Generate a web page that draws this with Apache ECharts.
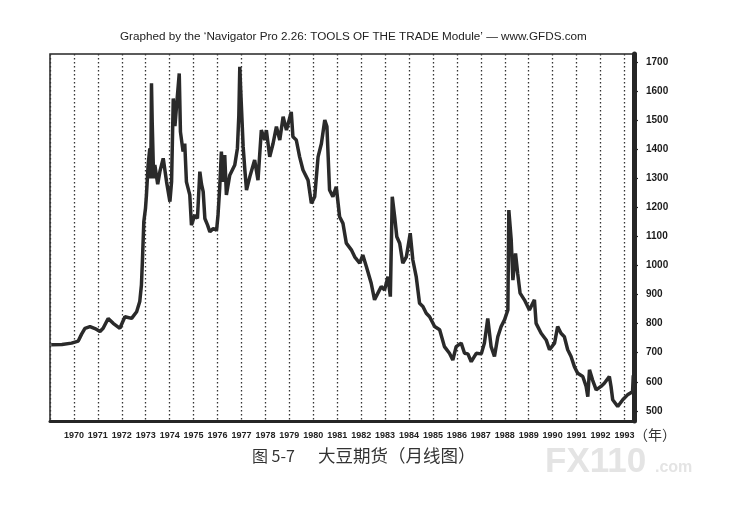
<!DOCTYPE html>
<html>
<head>
<meta charset="utf-8">
<script src="https://cdn.jsdelivr.net/npm/echarts@6/dist/echarts.min.js"></script>
<style>
html,body{margin:0;padding:0;background:#fff;}
#chart{width:730px;height:515px;}
</style>
</head>
<body>
<div id="chart"></div>
<script>
// ---- data ----
const yearLabels = [1970,1971,1972,1973,1974,1975,1976,1977,1978,1979,1980,1981,1982,1983,1984,1985,1986,1987,1988,1989,1990,1991,1992,1993];
const priceTicks = [500,600,700,800,900,1000,1100,1200,1300,1400,1500,1600,1700];

const dates = [
  1969.05,1969.5,1969.9,1970.18,1970.32,1970.46,1970.67,1970.88,1971.09,1971.22,
  1971.43,1971.64,1971.92,1972.13,1972.41,1972.62,1972.75,1972.82,1972.86,1972.92,
  1972.99,1973.03,1973.10,1973.17,1973.21,1973.24,1973.27,1973.33,1973.38,1973.50,
  1973.59,1973.73,1973.87,1974.01,1974.08,1974.15,1974.22,1974.29,1974.40,1974.45,
  1974.56,1974.63,1974.70,1974.84,1974.91,1975.05,1975.16,1975.26,1975.33,1975.40,
  1975.47,1975.58,1975.68,1975.82,1975.96,1976.02,1976.09,1976.16,1976.23,1976.30,
  1976.37,1976.51,1976.72,1976.83,1976.89,1976.93,1976.97,1977.07,1977.14,1977.21,
  1977.35,1977.55,1977.69,1977.83,1977.97,1978.04,1978.18,1978.32,1978.46,1978.60,
  1978.74,1978.88,1979.08,1979.15,1979.29,1979.43,1979.57,1979.78,1979.92,1980.06,
  1980.20,1980.34,1980.48,1980.57,1980.68,1980.82,1980.96,1981.10,1981.24,1981.38,
  1981.59,1981.73,1981.94,1982.07,1982.22,1982.42,1982.56,1982.70,1982.84,1982.98,
  1983.12,1983.22,1983.30,1983.40,1983.49,1983.61,1983.74,1983.89,1984.05,1984.16,
  1984.30,1984.44,1984.58,1984.72,1984.86,1985.07,1985.28,1985.48,1985.69,1985.83,
  1985.97,1986.18,1986.32,1986.46,1986.60,1986.81,1987.02,1987.15,1987.29,1987.43,
  1987.57,1987.71,1987.85,1987.99,1988.13,1988.17,1988.27,1988.34,1988.45,1988.54,
  1988.64,1988.82,1989.03,1989.24,1989.31,1989.52,1989.73,1989.87,1990.08,1990.21,
  1990.35,1990.49,1990.63,1990.77,1990.91,1991.05,1991.26,1991.40,1991.47,1991.54,
  1991.67,1991.82,1992.02,1992.16,1992.37,1992.44,1992.51,1992.72,1992.93,1993.13,
  1993.34,1993.37
];
const prices = [
  727,728,733,740,764,784,790,783,773,784,
  818,801,784,824,818,841,876,933,1013,1151,
  1197,1243,1346,1403,1300,1627,1495,1300,1346,1280,
  1323,1369,1288,1220,1289,1575,1480,1551,1661,1460,
  1392,1420,1288,1243,1139,1174,1162,1323,1280,1254,
  1162,1140,1116,1127,1122,1174,1266,1392,1288,1380,
  1243,1311,1346,1403,1518,1684,1600,1409,1330,1260,
  1306,1363,1294,1466,1432,1466,1374,1420,1478,1432,
  1512,1466,1529,1443,1432,1374,1329,1294,1214,1237,
  1374,1420,1501,1478,1260,1237,1271,1168,1145,1077,
  1054,1030,1008,1036,996,939,882,905,928,916,
  962,893,1237,1168,1099,1077,1008,1030,1111,1019,
  962,870,859,836,824,790,779,721,698,675,
  721,733,698,696,669,698,696,733,818,721,
  687,755,790,813,847,1191,1088,950,1042,973,
  905,882,847,882,801,767,744,710,733,790,
  767,755,710,687,652,629,618,584,549,641,
  606,572,584,595,618,584,538,515,538,555,
  566,622
];

const series = dates.map((d, i) => [d, prices[i]]);

const chart = echarts.init(document.getElementById('chart'), null, {renderer: 'canvas'});
const ink = '#262626';
chart.setOption({
  backgroundColor: '#ffffff',
  animation: false,
  grid: {left: 50, right: 96, top: 54, bottom: 94, show: true, borderColor: ink, borderWidth: 1.5, backgroundColor: 'transparent'},
  xAxis: {
    type: 'value', min: 1969, max: 1993.4, interval: 1,
    axisLine: {show: true, lineStyle: {color: ink, width: 3}},
    axisTick: {show: false},
    axisLabel: {
      showMinLabel: false, showMaxLabel: false, margin: 10,
      color: '#222', fontFamily: 'Liberation Sans, Arial, sans-serif', fontWeight: 'bold', fontSize: 9,
      formatter: v => (yearLabels.indexOf(v) >= 0 ? String(v) : '')
    },
    splitLine: {show: true, lineStyle: {color: '#333', width: 1.3, type: [1.5, 2.5]}}
  },
  yAxis: {
    type: 'value', position: 'right', min: 465, max: 1728,
    axisLine: {show: true, lineStyle: {color: ink, width: 5}},
    axisTick: {show: true, length: 4, customValues: priceTicks, lineStyle: {color: ink, width: 1.2}},
    axisLabel: {
      customValues: priceTicks, margin: 12,
      formatter: v => String(v),
      color: '#1a1a1a', fontFamily: 'Liberation Sans, Arial, sans-serif', fontWeight: 'bold', fontSize: 10
    },
    splitLine: {show: false}
  },
  series: [{
    type: 'line', data: series, showSymbol: false, symbol: 'none',
    lineStyle: {color: '#2a2a2a', width: 3.5, join: 'bevel', cap: 'butt'},
    z: 3
  }],
  graphic: [
    {type: 'text', left: 120, top: 31, style: {text: 'Graphed by the \u2018Navigator Pro 2.26: TOOLS OF THE TRADE Module\u2019 \u2014 www.GFDS.com', fill: '#222', font: '11.7px "Liberation Sans", Arial, sans-serif'}},
    {type: 'text', left: 634, top: 428, style: {text: '（年）', fill: '#333', font: '14px "Noto Sans CJK SC", sans-serif'}},
    {type: 'text', left: 252, top: 448, style: {text: '图 5-7', fill: '#333', font: '16px "Noto Sans CJK SC", sans-serif'}},
    {type: 'text', left: 318, top: 447, style: {text: '大豆期货（月线图）', fill: '#333', font: '17.5px "Noto Sans CJK SC", sans-serif'}},
    {type: 'text', left: 545, top: 445, style: {text: 'FX110', fill: '#e4e4e4', font: 'bold 35px "Liberation Sans", Arial, sans-serif'}},
    {type: 'text', left: 655, top: 460, style: {text: '.com', fill: '#e4e4e4', font: 'bold 16px "Liberation Sans", Arial, sans-serif'}}
  ]
});
</script>
</body>
</html>
